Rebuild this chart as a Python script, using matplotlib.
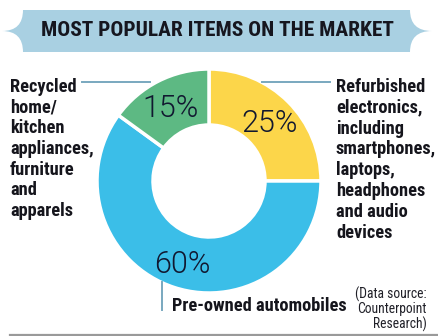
import matplotlib
matplotlib.use('Agg')
import matplotlib.pyplot as plt
from matplotlib import font_manager
from matplotlib.patches import PathPatch
from matplotlib.path import Path


# chart values
shares = [25, 60, 15]
slice_colors = ['#fcd64a', '#3bbee8', '#5db983']
label_right = 'Refurbished\nelectronics,\nincluding\nsmartphones,\nlaptops,\nheadphones\nand audio\ndevices'
label_bottom = 'Pre-owned automobiles'
label_left = 'Recycled\nhome/\nkitchen\nappliances,\nfurniture\nand\napparels'
title = 'MOST POPULAR ITEMS ON THE MARKET'
source = '(Data source:\nCounterpoint\nResearch)'

W, H = 439, 336


# look for a narrow font, the original uses a condensed face
def find_font(keys, bold):
    for key in keys:
        for f in font_manager.fontManager.ttflist:
            w = f.weight
            if isinstance(w, str):
                w = font_manager.weight_dict.get(w, 400)
            if (w >= 600) != bold or f.style != 'normal':
                continue
            if key == 'stretch':
                if f.stretch in ('condensed', 'semi-condensed', 'extra-condensed'):
                    return font_manager.FontProperties(fname=f.fname)
            elif key.lower() in f.name.lower():
                return font_manager.FontProperties(fname=f.fname)
    return None


narrow_keys = ['Roboto Condensed', 'Liberation Sans Narrow', 'Sans Narrow', 'Condensed', 'stretch']
bold_font = find_font(narrow_keys, True) or font_manager.FontProperties(family='Roboto', weight='bold')
reg_font = find_font(narrow_keys, False) or font_manager.FontProperties(family='Roboto')
light_font = font_manager.FontProperties(family='Roboto', weight=300)


def fp(base, size):
    p = base.copy()
    p.set_size(size)
    return p


fig = plt.figure(figsize=(W / 100, H / 100), dpi=100)
ax = fig.add_axes([0, 0, 1, 1])


def y(v):
    # pixel rows counted from the top
    return H - v


# ribbon banner behind the title
verts = [(23, y(10)), (410, y(10)), (410, y(31)), (432, y(31)), (410, y(31)), (410, y(52)),
         (23, y(52)), (23, y(31)), (2, y(31)), (23, y(31)), (23, y(10))]
codes = [Path.MOVETO, Path.LINETO, Path.CURVE3, Path.CURVE3, Path.CURVE3, Path.CURVE3,
         Path.LINETO, Path.CURVE3, Path.CURVE3, Path.CURVE3, Path.CURVE3]
ax.add_patch(PathPatch(Path(verts, codes), facecolor='#a9d0e2', edgecolor='none'))

texts = []
t = ax.text(217, y(30), title, ha='center', va='center', color='#16161f',
            fontproperties=fp(bold_font, 17.5))
texts.append((t, 352))

# donut
wedges, _, pcts = ax.pie(shares, colors=slice_colors, startangle=90, counterclock=False,
                         center=(209, y(181)), radius=112, frame=True,
                         autopct='%d%%', pctdistance=0.76,
                         wedgeprops=dict(width=56, edgecolor='white', linewidth=2.5),
                         textprops=dict(color='#111830', fontproperties=fp(light_font, 22)))
for p in pcts:
    p.set_va('center_baseline')

# leader lines
line_col = '#79a8bf'
ax.plot([82, 150], [y(82), y(82)], color=line_col, lw=1.4)
ax.plot([262, 330], [y(82), y(82)], color=line_col, lw=1.4)
ax.plot([162, 162], [y(282), y(310)], color=line_col, lw=1.4)

t = ax.text(10, y(78), label_left, ha='left', va='top', color='#15151c',
            fontproperties=fp(bold_font, 13.2), linespacing=1.19)
texts.append((t, 86))
t = ax.text(336, y(78), label_right, ha='left', va='top', color='#15151c',
            fontproperties=fp(bold_font, 13.2), linespacing=1.2)
texts.append((t, 103))
t = ax.text(172, y(306), label_bottom, ha='left', va='center', color='#15151c',
            fontproperties=fp(bold_font, 13.2))
texts.append((t, 176))
t = ax.text(427, y(287), source, ha='right', va='top', color='#202028',
            fontproperties=fp(reg_font, 9.8), linespacing=1.0)
texts.append((t, 70))

# bottom rule of the box
ax.plot([10, W], [y(335), y(335)], color='#9a9a9a', lw=1.6)

ax.set_xlim(0, W)
ax.set_ylim(0, H)
ax.set_aspect('auto')
ax.set_axis_off()

# shrink text that comes out wider than in the picture
fig.canvas.draw()
r = fig.canvas.get_renderer()
for t, width in texts:
    ext = t.get_window_extent(r)
    if ext.width > width * 1.03:
        t.set_fontsize(t.get_fontsize() * width / ext.width)

fig.savefig('out.png', dpi=100, facecolor='white')
